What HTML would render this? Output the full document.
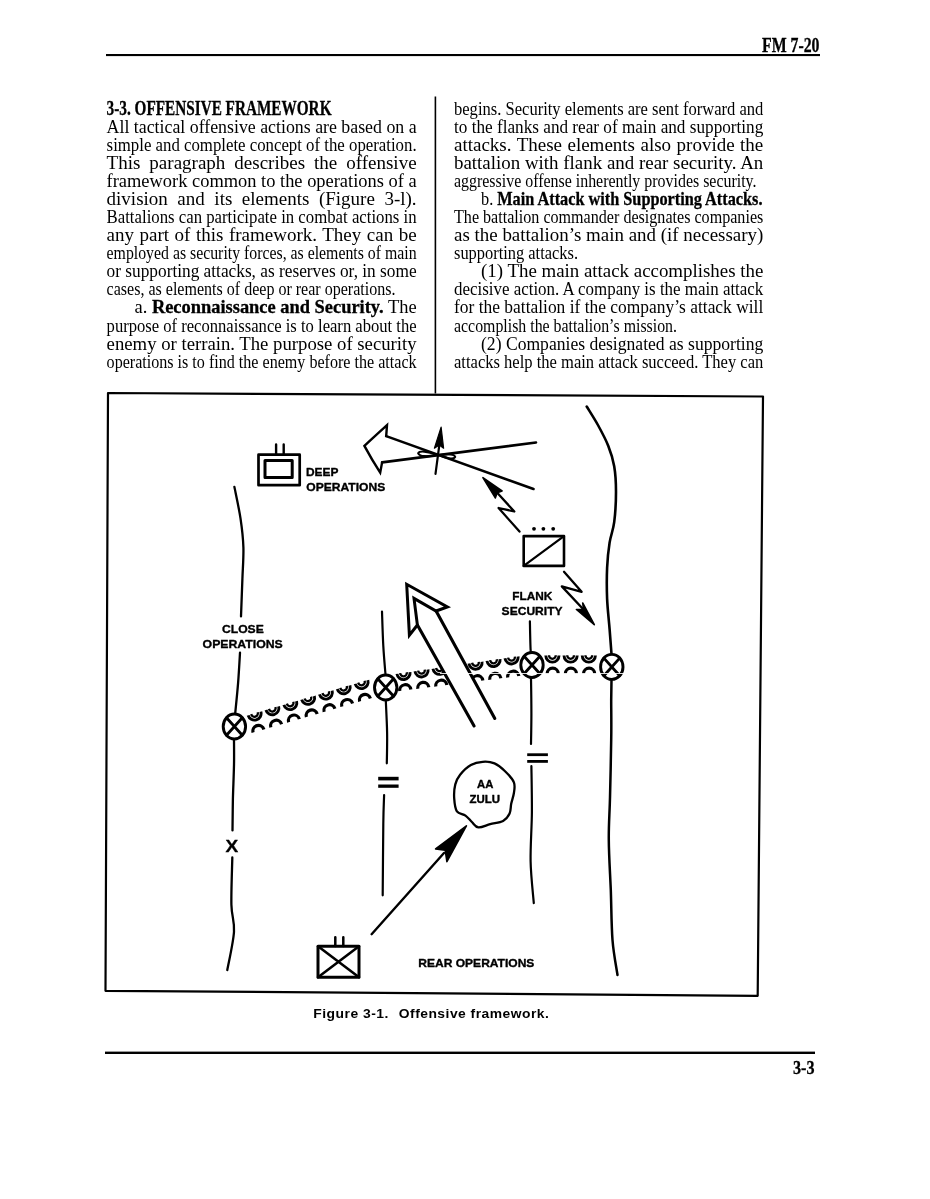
<!DOCTYPE html>
<html><head><meta charset="utf-8"><title>FM 7-20 3-3</title>
<style>
html,body{margin:0;padding:0;background:#fff;}
body{width:930px;height:1199px;overflow:hidden;}
svg{display:block;will-change:transform;}
text{fill:#000;}
</style></head><body>
<svg width="930" height="1199" viewBox="0 0 930 1199">
<rect x="0" y="0" width="930" height="1199" fill="#fff"/>
<g id="rules" fill="#000">
<rect x="106" y="54" width="714" height="2.1"/>
<rect x="105" y="1051.6" width="710" height="2.4"/>
<rect x="434.6" y="96.5" width="1.6" height="297"/>
</g>
<g id="txt">
<text x="106.60" y="114.90" font-size="20.5" textLength="224.90" lengthAdjust="spacingAndGlyphs" font-family="Liberation Serif"><tspan font-weight="bold" stroke="#000" stroke-width="0.3">3-3. OFFENSIVE FRAMEWORK</tspan></text>
<text x="106.60" y="132.59" font-size="19" textLength="310.00" lengthAdjust="spacingAndGlyphs" font-family="Liberation Serif">All tactical offensive actions are based on a</text>
<text x="106.60" y="150.68" font-size="19" textLength="310.00" lengthAdjust="spacingAndGlyphs" font-family="Liberation Serif">simple and complete concept of the operation.</text>
<text x="106.60" y="168.77" font-size="19" textLength="310.00" lengthAdjust="spacingAndGlyphs" font-family="Liberation Serif" word-spacing="4.25">This paragraph describes the offensive</text>
<text x="106.60" y="186.86" font-size="19" textLength="310.00" lengthAdjust="spacingAndGlyphs" font-family="Liberation Serif">framework common to the operations of a</text>
<text x="106.60" y="204.95" font-size="19" textLength="310.00" lengthAdjust="spacingAndGlyphs" font-family="Liberation Serif" word-spacing="4.80">division and its elements (Figure 3-l).</text>
<text x="106.60" y="223.04" font-size="19" textLength="310.00" lengthAdjust="spacingAndGlyphs" font-family="Liberation Serif">Battalions can participate in combat actions in</text>
<text x="106.60" y="241.13" font-size="19" textLength="310.00" lengthAdjust="spacingAndGlyphs" font-family="Liberation Serif" word-spacing="0.77">any part of this framework. They can be</text>
<text x="106.60" y="259.22" font-size="19" textLength="310.00" lengthAdjust="spacingAndGlyphs" font-family="Liberation Serif">employed as security forces, as elements of main</text>
<text x="106.60" y="277.31" font-size="19" textLength="310.00" lengthAdjust="spacingAndGlyphs" font-family="Liberation Serif">or supporting attacks, as reserves or, in some</text>
<text x="106.60" y="295.40" font-size="19" textLength="288.90" lengthAdjust="spacingAndGlyphs" font-family="Liberation Serif">cases, as elements of deep or rear operations.</text>
<text x="134.50" y="313.49" font-size="19" textLength="282.10" lengthAdjust="spacingAndGlyphs" font-family="Liberation Serif">a. <tspan font-weight="bold" stroke="#000" stroke-width="0.3">Reconnaissance and Security.</tspan> The</text>
<text x="106.60" y="331.58" font-size="19" textLength="310.00" lengthAdjust="spacingAndGlyphs" font-family="Liberation Serif">purpose of reconnaissance is to learn about the</text>
<text x="106.60" y="349.67" font-size="19" textLength="310.00" lengthAdjust="spacingAndGlyphs" font-family="Liberation Serif">enemy or terrain. The purpose of security</text>
<text x="106.60" y="367.76" font-size="19" textLength="310.00" lengthAdjust="spacingAndGlyphs" font-family="Liberation Serif">operations is to find the enemy before the attack</text>
<text x="454.00" y="114.50" font-size="19" textLength="309.30" lengthAdjust="spacingAndGlyphs" font-family="Liberation Serif">begins. Security elements are sent forward and</text>
<text x="454.00" y="132.59" font-size="19" textLength="309.30" lengthAdjust="spacingAndGlyphs" font-family="Liberation Serif">to the flanks and rear of main and supporting</text>
<text x="454.00" y="150.68" font-size="19" textLength="309.30" lengthAdjust="spacingAndGlyphs" font-family="Liberation Serif" word-spacing="0.73">attacks. These elements also provide the</text>
<text x="454.00" y="168.77" font-size="19" textLength="309.30" lengthAdjust="spacingAndGlyphs" font-family="Liberation Serif">battalion with flank and rear security. An</text>
<text x="454.00" y="186.86" font-size="19" textLength="302.50" lengthAdjust="spacingAndGlyphs" font-family="Liberation Serif">aggressive offense inherently provides security.</text>
<text x="481.00" y="204.95" font-size="19" textLength="281.50" lengthAdjust="spacingAndGlyphs" font-family="Liberation Serif">b. <tspan font-weight="bold" stroke="#000" stroke-width="0.3">Main Attack with Supporting Attacks.</tspan></text>
<text x="454.00" y="223.04" font-size="19" textLength="309.30" lengthAdjust="spacingAndGlyphs" font-family="Liberation Serif">The battalion commander designates companies</text>
<text x="454.00" y="241.13" font-size="19" textLength="309.30" lengthAdjust="spacingAndGlyphs" font-family="Liberation Serif">as the battalion’s main and (if necessary)</text>
<text x="454.00" y="259.22" font-size="19" textLength="124.00" lengthAdjust="spacingAndGlyphs" font-family="Liberation Serif">supporting attacks.</text>
<text x="481.00" y="277.31" font-size="19" textLength="282.30" lengthAdjust="spacingAndGlyphs" font-family="Liberation Serif">(1) The main attack accomplishes the</text>
<text x="454.00" y="295.40" font-size="19" textLength="309.30" lengthAdjust="spacingAndGlyphs" font-family="Liberation Serif">decisive action. A company is the main attack</text>
<text x="454.00" y="313.49" font-size="19" textLength="309.30" lengthAdjust="spacingAndGlyphs" font-family="Liberation Serif">for the battalion if the company’s attack will</text>
<text x="454.00" y="331.58" font-size="19" textLength="223.00" lengthAdjust="spacingAndGlyphs" font-family="Liberation Serif">accomplish the battalion’s mission.</text>
<text x="481.00" y="349.67" font-size="19" textLength="282.30" lengthAdjust="spacingAndGlyphs" font-family="Liberation Serif">(2) Companies designated as supporting</text>
<text x="454.00" y="367.76" font-size="19" textLength="309.30" lengthAdjust="spacingAndGlyphs" font-family="Liberation Serif">attacks help the main attack succeed. They can</text>
<text x="762.00" y="52.20" font-size="20" textLength="57.50" lengthAdjust="spacingAndGlyphs" font-family="Liberation Serif"><tspan font-weight="bold" stroke="#000" stroke-width="0.3">FM 7-20</tspan></text>
<text x="793.00" y="1073.50" font-size="19" textLength="21.50" lengthAdjust="spacingAndGlyphs" font-family="Liberation Serif"><tspan font-weight="bold" stroke="#000" stroke-width="0.3">3-3</tspan></text>
<text x="313.3" y="1018.2" font-size="13" textLength="75.5" lengthAdjust="spacingAndGlyphs" letter-spacing="0.45" font-family="Liberation Sans" font-weight="bold">Figure 3-1.</text>
<text x="398.8" y="1018.2" font-size="13" textLength="150.5" lengthAdjust="spacingAndGlyphs" letter-spacing="0.45" font-family="Liberation Sans" font-weight="bold">Offensive framework.</text>
</g>
<g id="fig" fill="none" stroke="#000" stroke-linecap="round" stroke-linejoin="round">
<polygon points="108,393 763,396.5 757.7,995.8 105.5,990.8" stroke-width="2.2"/>
<path d="M586.7,406.5 C588.6,409.7 594.6,418.9 598.2,425.5 C601.8,432.1 605.6,439.1 608.3,445.9 C611.0,452.7 612.9,458.6 614.2,466.2 C615.5,473.8 616.0,482.4 616.0,491.7 C616.0,501.0 615.3,513.7 614.2,522.2 C613.1,530.7 610.8,535.0 609.6,542.6 C608.4,550.2 607.5,558.7 607.1,568.0 C606.7,577.3 606.7,588.4 607.1,598.6 C607.5,608.8 608.9,619.9 609.6,629.1 C610.3,638.3 611.2,649.9 611.5,654.0" stroke-width="2.60" fill="none"/>
<path d="M611.5,680.0 C611.5,683.3 611.3,690.0 611.2,700.0 C611.2,710.0 611.5,723.8 611.2,740.0 C611.0,756.2 610.4,780.8 610.0,797.5 C609.6,814.2 608.6,824.6 608.8,840.0 C608.9,855.4 610.1,873.3 610.8,890.0 C611.4,906.7 611.4,925.8 612.5,940.0 C613.6,954.2 616.7,969.2 617.5,975.0" stroke-width="2.50" fill="none"/>
<path d="M234.4,486.9 C235.4,492.1 239.0,508.3 240.5,518.4 C242.0,528.5 243.1,537.3 243.4,547.4 C243.7,557.5 242.8,567.4 242.4,578.9 C242.0,590.4 241.2,610.1 241.0,616.4" stroke-width="2.30" fill="none"/>
<path d="M240.0,652.7 C239.7,657.7 238.9,672.8 238.1,682.9 C237.3,693.0 235.7,708.4 235.2,713.5" stroke-width="2.30" fill="none"/>
<path d="M234.0,739.5 C234.0,743.8 234.2,755.1 234.0,765.0 C233.8,774.9 233.2,787.9 232.9,798.8 C232.7,809.7 232.6,825.1 232.5,830.4" stroke-width="2.30" fill="none"/>
<path d="M232.3,857.4 C232.2,865.3 231.1,892.3 231.4,904.7 C231.7,917.1 234.7,920.8 234.0,931.7 C233.3,942.6 228.4,963.6 227.3,970.0" stroke-width="2.30" fill="none"/>
<path d="M382.0,611.5 C382.2,617.2 382.7,635.4 383.3,645.9 C383.9,656.4 385.1,669.7 385.5,674.5" stroke-width="2.20" fill="none"/>
<path d="M385.8,700.5 C386.0,705.8 386.9,721.9 387.1,732.4 C387.3,742.9 386.9,758.1 386.8,763.3" stroke-width="2.20" fill="none"/>
<path d="M384.1,795.0 C384.0,799.8 383.5,807.3 383.3,824.0 C383.1,840.7 382.8,883.4 382.7,895.3" stroke-width="2.20" fill="none"/>
<path d="M529.9,621.3 C530.0,626.0 530.3,644.4 530.6,649.5 C530.9,654.6 531.4,651.6 531.5,652.0" stroke-width="2.20" fill="none"/>
<path d="M531.0,678.0 C531.1,683.9 531.4,702.5 531.4,713.5 C531.4,724.5 531.1,738.8 531.0,743.9" stroke-width="2.20" fill="none"/>
<path d="M531.4,766.2 C531.5,773.8 532.0,796.1 531.9,812.0 C531.8,827.9 530.3,846.1 530.6,861.3 C530.9,876.5 533.3,896.2 533.8,903.2" stroke-width="2.20" fill="none"/>
<g fill="#000" stroke="none">
<rect x="378.2" y="776.8" width="20.4" height="3.6"/><rect x="378.2" y="784.5" width="20.4" height="3.3"/>
<rect x="527.2" y="753.3" width="20.7" height="2.8"/><rect x="527.2" y="760" width="20.7" height="2.8"/>
</g>
<ellipse cx="234.4" cy="726.5" rx="11.2" ry="12.5" stroke-width="2.90"/>
<path d="M226.5,717.7 L242.3,735.3 M242.3,717.7 L226.5,735.3" stroke-width="2.8"/>
<ellipse cx="385.7" cy="687.5" rx="11.2" ry="12.5" stroke-width="2.90"/>
<path d="M377.8,678.7 L393.6,696.3 M393.6,678.7 L377.8,696.3" stroke-width="2.8"/>
<ellipse cx="532.0" cy="665.0" rx="11.2" ry="12.5" stroke-width="2.90"/>
<path d="M524.1,656.2 L539.9,673.8 M539.9,656.2 L524.1,673.8" stroke-width="2.8"/>
<ellipse cx="611.8" cy="666.9" rx="11.2" ry="12.5" stroke-width="2.90"/>
<path d="M603.9,658.1 L619.7,675.7 M619.7,658.1 L603.9,675.7" stroke-width="2.8"/>
<g transform="translate(254.5,713.5) rotate(-16.0)">
<path d="M-6.6,0 A6.6,6.6 0 0 0 6.6,0" stroke-width="2.9" stroke-linecap="butt"/>
<path d="M-3.4,-0.3 A3.4,3.6 0 0 0 3.4,-0.3" stroke-width="2.3" stroke-linecap="butt"/>
</g>
<g transform="translate(258.5,731.0) rotate(-16.0)">
<path d="M-5.6,0 A5.6,5.6 0 0 1 5.6,0" stroke-width="3.2" stroke-linecap="butt"/>
</g>
<g transform="translate(272.3,708.2) rotate(-16.0)">
<path d="M-6.6,0 A6.6,6.6 0 0 0 6.6,0" stroke-width="2.9" stroke-linecap="butt"/>
<path d="M-3.4,-0.3 A3.4,3.6 0 0 0 3.4,-0.3" stroke-width="2.3" stroke-linecap="butt"/>
</g>
<g transform="translate(276.2,725.8) rotate(-16.0)">
<path d="M-5.6,0 A5.6,5.6 0 0 1 5.6,0" stroke-width="3.2" stroke-linecap="butt"/>
</g>
<g transform="translate(290.2,703.0) rotate(-16.0)">
<path d="M-6.6,0 A6.6,6.6 0 0 0 6.6,0" stroke-width="2.9" stroke-linecap="butt"/>
<path d="M-3.4,-0.3 A3.4,3.6 0 0 0 3.4,-0.3" stroke-width="2.3" stroke-linecap="butt"/>
</g>
<g transform="translate(294.0,720.7) rotate(-16.0)">
<path d="M-5.6,0 A5.6,5.6 0 0 1 5.6,0" stroke-width="3.2" stroke-linecap="butt"/>
</g>
<g transform="translate(308.0,697.8) rotate(-16.0)">
<path d="M-6.6,0 A6.6,6.6 0 0 0 6.6,0" stroke-width="2.9" stroke-linecap="butt"/>
<path d="M-3.4,-0.3 A3.4,3.6 0 0 0 3.4,-0.3" stroke-width="2.3" stroke-linecap="butt"/>
</g>
<g transform="translate(311.8,715.5) rotate(-16.0)">
<path d="M-5.6,0 A5.6,5.6 0 0 1 5.6,0" stroke-width="3.2" stroke-linecap="butt"/>
</g>
<g transform="translate(325.8,692.5) rotate(-16.0)">
<path d="M-6.6,0 A6.6,6.6 0 0 0 6.6,0" stroke-width="2.9" stroke-linecap="butt"/>
<path d="M-3.4,-0.3 A3.4,3.6 0 0 0 3.4,-0.3" stroke-width="2.3" stroke-linecap="butt"/>
</g>
<g transform="translate(329.5,710.3) rotate(-16.0)">
<path d="M-5.6,0 A5.6,5.6 0 0 1 5.6,0" stroke-width="3.2" stroke-linecap="butt"/>
</g>
<g transform="translate(343.6,687.2) rotate(-16.0)">
<path d="M-6.6,0 A6.6,6.6 0 0 0 6.6,0" stroke-width="2.9" stroke-linecap="butt"/>
<path d="M-3.4,-0.3 A3.4,3.6 0 0 0 3.4,-0.3" stroke-width="2.3" stroke-linecap="butt"/>
</g>
<g transform="translate(347.2,705.1) rotate(-16.0)">
<path d="M-5.6,0 A5.6,5.6 0 0 1 5.6,0" stroke-width="3.2" stroke-linecap="butt"/>
</g>
<g transform="translate(361.5,682.0) rotate(-16.0)">
<path d="M-6.6,0 A6.6,6.6 0 0 0 6.6,0" stroke-width="2.9" stroke-linecap="butt"/>
<path d="M-3.4,-0.3 A3.4,3.6 0 0 0 3.4,-0.3" stroke-width="2.3" stroke-linecap="butt"/>
</g>
<g transform="translate(365.0,700.0) rotate(-16.0)">
<path d="M-5.6,0 A5.6,5.6 0 0 1 5.6,0" stroke-width="3.2" stroke-linecap="butt"/>
</g>
<g transform="translate(403.5,673.0) rotate(-8.0)">
<path d="M-6.6,0 A6.6,6.6 0 0 0 6.6,0" stroke-width="2.9" stroke-linecap="butt"/>
<path d="M-3.4,-0.3 A3.4,3.6 0 0 0 3.4,-0.3" stroke-width="2.3" stroke-linecap="butt"/>
</g>
<g transform="translate(405.3,690.3) rotate(-8.0)">
<path d="M-5.6,0 A5.6,5.6 0 0 1 5.6,0" stroke-width="3.2" stroke-linecap="butt"/>
</g>
<g transform="translate(421.5,670.4) rotate(-8.0)">
<path d="M-6.6,0 A6.6,6.6 0 0 0 6.6,0" stroke-width="2.9" stroke-linecap="butt"/>
<path d="M-3.4,-0.3 A3.4,3.6 0 0 0 3.4,-0.3" stroke-width="2.3" stroke-linecap="butt"/>
</g>
<g transform="translate(423.3,688.0) rotate(-8.0)">
<path d="M-5.6,0 A5.6,5.6 0 0 1 5.6,0" stroke-width="3.2" stroke-linecap="butt"/>
</g>
<g transform="translate(439.5,667.8) rotate(-8.0)">
<path d="M-6.6,0 A6.6,6.6 0 0 0 6.6,0" stroke-width="2.9" stroke-linecap="butt"/>
<path d="M-3.4,-0.3 A3.4,3.6 0 0 0 3.4,-0.3" stroke-width="2.3" stroke-linecap="butt"/>
</g>
<g transform="translate(441.3,685.8) rotate(-8.0)">
<path d="M-5.6,0 A5.6,5.6 0 0 1 5.6,0" stroke-width="3.2" stroke-linecap="butt"/>
</g>
<g transform="translate(457.5,665.2) rotate(-8.0)">
<path d="M-6.6,0 A6.6,6.6 0 0 0 6.6,0" stroke-width="2.9" stroke-linecap="butt"/>
<path d="M-3.4,-0.3 A3.4,3.6 0 0 0 3.4,-0.3" stroke-width="2.3" stroke-linecap="butt"/>
</g>
<g transform="translate(459.3,683.5) rotate(-8.0)">
<path d="M-5.6,0 A5.6,5.6 0 0 1 5.6,0" stroke-width="3.2" stroke-linecap="butt"/>
</g>
<g transform="translate(475.5,662.6) rotate(-8.0)">
<path d="M-6.6,0 A6.6,6.6 0 0 0 6.6,0" stroke-width="2.9" stroke-linecap="butt"/>
<path d="M-3.4,-0.3 A3.4,3.6 0 0 0 3.4,-0.3" stroke-width="2.3" stroke-linecap="butt"/>
</g>
<g transform="translate(477.3,681.3) rotate(-8.0)">
<path d="M-5.6,0 A5.6,5.6 0 0 1 5.6,0" stroke-width="3.2" stroke-linecap="butt"/>
</g>
<g transform="translate(493.5,660.0) rotate(-8.0)">
<path d="M-6.6,0 A6.6,6.6 0 0 0 6.6,0" stroke-width="2.9" stroke-linecap="butt"/>
<path d="M-3.4,-0.3 A3.4,3.6 0 0 0 3.4,-0.3" stroke-width="2.3" stroke-linecap="butt"/>
</g>
<g transform="translate(495.3,679.0) rotate(-8.0)">
<path d="M-5.6,0 A5.6,5.6 0 0 1 5.6,0" stroke-width="3.2" stroke-linecap="butt"/>
</g>
<g transform="translate(511.5,657.4) rotate(-8.0)">
<path d="M-6.6,0 A6.6,6.6 0 0 0 6.6,0" stroke-width="2.9" stroke-linecap="butt"/>
<path d="M-3.4,-0.3 A3.4,3.6 0 0 0 3.4,-0.3" stroke-width="2.3" stroke-linecap="butt"/>
</g>
<g transform="translate(513.3,676.8) rotate(-8.0)">
<path d="M-5.6,0 A5.6,5.6 0 0 1 5.6,0" stroke-width="3.2" stroke-linecap="butt"/>
</g>
<g transform="translate(552.4,655.5) rotate(0.0)">
<path d="M-6.6,0 A6.6,6.6 0 0 0 6.6,0" stroke-width="2.9" stroke-linecap="butt"/>
<path d="M-3.4,-0.3 A3.4,3.6 0 0 0 3.4,-0.3" stroke-width="2.3" stroke-linecap="butt"/>
</g>
<g transform="translate(552.7,673.8) rotate(0.0)">
<path d="M-5.6,0 A5.6,5.6 0 0 1 5.6,0" stroke-width="3.2" stroke-linecap="butt"/>
</g>
<g transform="translate(570.6,655.5) rotate(0.0)">
<path d="M-6.6,0 A6.6,6.6 0 0 0 6.6,0" stroke-width="2.9" stroke-linecap="butt"/>
<path d="M-3.4,-0.3 A3.4,3.6 0 0 0 3.4,-0.3" stroke-width="2.3" stroke-linecap="butt"/>
</g>
<g transform="translate(570.9,673.8) rotate(0.0)">
<path d="M-5.6,0 A5.6,5.6 0 0 1 5.6,0" stroke-width="3.2" stroke-linecap="butt"/>
</g>
<g transform="translate(588.8,655.5) rotate(0.0)">
<path d="M-6.6,0 A6.6,6.6 0 0 0 6.6,0" stroke-width="2.9" stroke-linecap="butt"/>
<path d="M-3.4,-0.3 A3.4,3.6 0 0 0 3.4,-0.3" stroke-width="2.3" stroke-linecap="butt"/>
</g>
<g transform="translate(589.1,673.8) rotate(0.0)">
<path d="M-5.6,0 A5.6,5.6 0 0 1 5.6,0" stroke-width="3.2" stroke-linecap="butt"/>
</g>
<path d="M436.1,611.0 L494.8,718.5 L474.1,725.9 L417.4,625.0 Z" fill="#fff" stroke="none"/>
<path d="M436.1,611.0 L494.8,718.5" stroke-width="3.10" fill="none"/>
<path d="M417.4,625.0 L474.1,725.9" stroke-width="3.10" fill="none"/>
<path d="M436.1,611.0 L447.4,607.0 L406.7,584.3 L409.4,635.1 L417.4,625.0 L414.0,598.4 L436.1,611.0 Z" stroke-width="3.00" fill="none" stroke-linejoin="miter"/>
<path d="M386.2,436.1 L387,425.2 Q374,437 364.4,445.9 Q372,460 380.2,472.6 L382.1,462.4" stroke-width="2.40" fill="none" stroke-linejoin="miter"/>
<path d="M386.2,436.1 L533.5,489.0" stroke-width="2.60" fill="none"/>
<path d="M382.1,462.4 L536.0,442.5" stroke-width="2.60" fill="none"/>
<path d="M418.2,453.3 C419.5,450.6 427,451 437,455 C427,457.2 419.5,456.4 418.2,453.3 Z" stroke-width="2.10" fill="none"/>
<path d="M439,455 C447,453.8 454,454 455.2,456.8 C454,459.6 447,459 439,455 Z" stroke-width="2.10" fill="none"/>
<path d="M435.5,473.8 L439.2,446.0" stroke-width="2.20" fill="none"/>
<path d="M441.1,427.1 L443.6,448.2 L439.3,445 L434.4,448.2 Z" fill="#000" stroke="#000" stroke-width="1.2"/>
<rect x="258.5" y="454.7" width="41.2" height="30.5" stroke-width="2.7"/>
<rect x="265" y="460.5" width="27.2" height="17" stroke-width="3"/>
<path d="M276.1,444.5 L276.1,454 M283.7,444.5 L283.7,454" stroke-width="2.40" fill="none"/>
<path d="M497.2,492.8 L514.3,511.5 L498.6,508.0 L519.5,531.6" stroke-width="2.30" fill="none"/>
<path d="M482.9,477.6 L502.1,490.9 L497.2,492.8 L495.3,497.9 Z" fill="#000" stroke="#000" stroke-width="1.6"/>
<path d="M564.0,571.8 L581.6,591.8 L561.8,586.4 L584.0,610.0" stroke-width="2.30" fill="none"/>
<path d="M594.3,624.7 L576.4,609.5 L583.6,609.6 L582.7,603 Z" fill="#000" stroke="#000" stroke-width="1.6"/>
<rect x="523.7" y="536.1" width="40.3" height="29.8" stroke-width="2.6"/>
<path d="M564.0,536.1 L523.7,565.9" stroke-width="2.20" fill="none"/>
<g fill="#000" stroke="none"><circle cx="534" cy="528.8" r="1.9"/><circle cx="543.4" cy="528.8" r="1.9"/><circle cx="553.2" cy="528.8" r="1.9"/></g>
<path d="M482.7,761.8 C486.6,761.5 490.7,761.8 494.5,763.4 C498.3,765.0 502.1,768.4 505.3,771.5 C508.5,774.6 512.5,778.7 513.9,782.3 C515.3,785.9 514.4,789.4 513.9,793.0 C513.4,796.6 511.9,800.4 511.2,803.8 C510.5,807.2 511.0,810.5 509.6,813.4 C508.2,816.3 506.3,819.2 503.1,821.0 C499.9,822.8 494.3,823.1 490.2,824.2 C486.1,825.3 481.4,827.8 478.4,827.4 C475.3,827.0 474.0,824.0 471.9,822.0 C469.8,820.0 468.0,817.4 465.5,815.6 C463.0,813.8 458.8,814.2 456.9,811.3 C455.0,808.4 454.5,802.9 454.2,798.4 C453.9,793.9 454.3,788.3 455.3,784.4 C456.3,780.5 457.5,777.9 460.1,774.7 C462.7,771.5 467.1,767.1 470.9,765.0 C474.7,762.9 478.8,762.1 482.7,761.8 Z" stroke-width="2.30" fill="none"/>
<path d="M371.6,934.2 L444.0,853.0" stroke-width="2.40" fill="none"/>
<path d="M466.4,825.8 L446.9,861.7 L445.2,850.2 L435.6,849 Z" fill="#000" stroke="#000" stroke-width="1.6"/>
<rect x="318" y="946.3" width="41" height="30.9" stroke-width="3"/>
<path d="M318.0,946.3 L359.0,977.2 M359.0,946.3 L318.0,977.2" stroke-width="2.60" fill="none"/>
<path d="M335.3,937.2 L335.3,946 M343.3,937.2 L343.3,946" stroke-width="2.50" fill="none"/>
<text x="306.0" y="475.6" font-size="11.5" textLength="32.5" lengthAdjust="spacingAndGlyphs" font-family="Liberation Sans" font-weight="bold" fill="#000" stroke="#000" stroke-width="0.35">DEEP</text>
<text x="306.3" y="490.5" font-size="11.5" textLength="78.9" lengthAdjust="spacingAndGlyphs" font-family="Liberation Sans" font-weight="bold" fill="#000" stroke="#000" stroke-width="0.35">OPERATIONS</text>
<text x="222.0" y="633.3" font-size="11.8" textLength="41.8" lengthAdjust="spacingAndGlyphs" font-family="Liberation Sans" font-weight="bold" fill="#000" stroke="#000" stroke-width="0.35">CLOSE</text>
<text x="202.6" y="648.3" font-size="11.8" textLength="80.2" lengthAdjust="spacingAndGlyphs" font-family="Liberation Sans" font-weight="bold" fill="#000" stroke="#000" stroke-width="0.35">OPERATIONS</text>
<text x="512.2" y="599.8" font-size="11.8" textLength="40.1" lengthAdjust="spacingAndGlyphs" font-family="Liberation Sans" font-weight="bold" fill="#000" stroke="#000" stroke-width="0.35">FLANK</text>
<text x="501.6" y="615.3" font-size="11.8" textLength="61.0" lengthAdjust="spacingAndGlyphs" font-family="Liberation Sans" font-weight="bold" fill="#000" stroke="#000" stroke-width="0.35">SECURITY</text>
<text x="225.6" y="851.5" font-size="17.0" textLength="12.7" lengthAdjust="spacingAndGlyphs" font-family="Liberation Sans" font-weight="bold" fill="#000" stroke="#000" stroke-width="0.35">X</text>
<text x="477.0" y="787.8" font-size="10.6" textLength="16.3" lengthAdjust="spacingAndGlyphs" font-family="Liberation Sans" font-weight="bold" fill="#000" stroke="#000" stroke-width="0.35">AA</text>
<text x="469.4" y="802.7" font-size="10.2" textLength="30.6" lengthAdjust="spacingAndGlyphs" font-family="Liberation Sans" font-weight="bold" fill="#000" stroke="#000" stroke-width="0.35">ZULU</text>
<text x="418.3" y="966.8" font-size="11.6" textLength="116.1" lengthAdjust="spacingAndGlyphs" font-family="Liberation Sans" font-weight="bold" fill="#000" stroke="#000" stroke-width="0.35">REAR OPERATIONS</text>
<rect x="440" y="673.0" width="186" height="1" fill="#fff" stroke="none" opacity="0.85"/>
</g>
</svg>
</body></html>
